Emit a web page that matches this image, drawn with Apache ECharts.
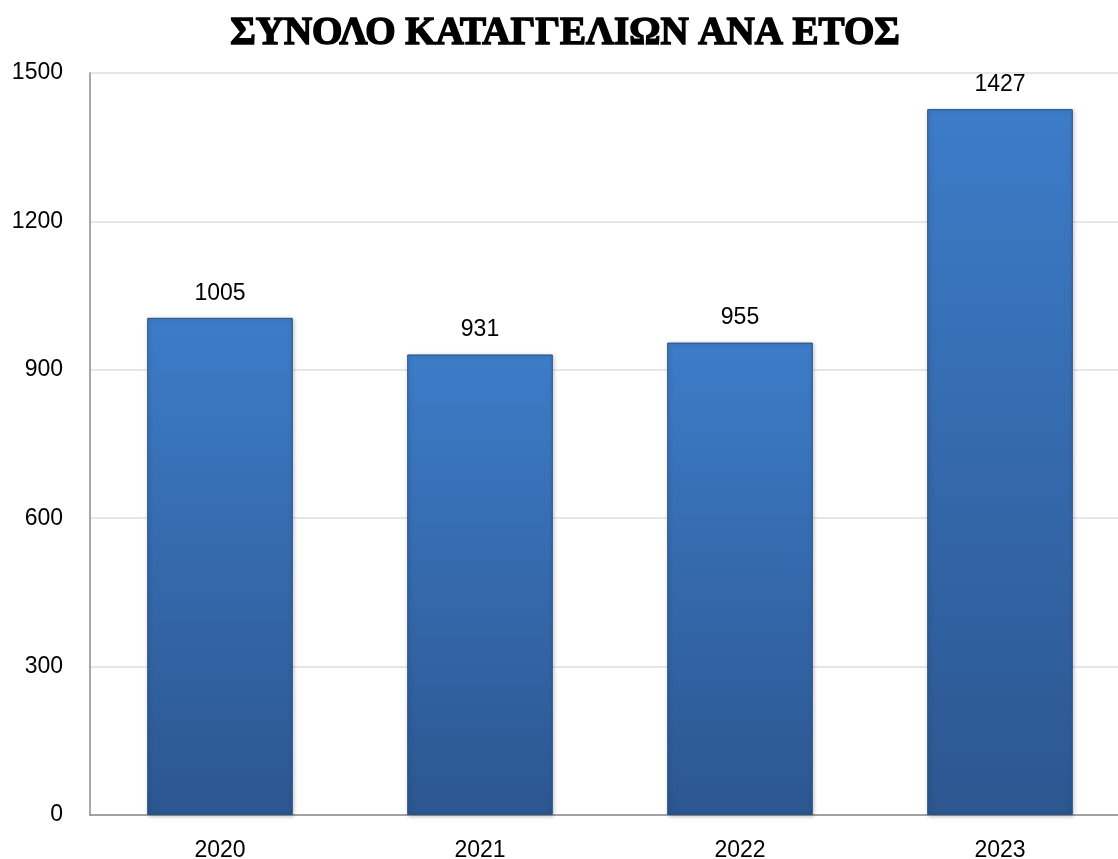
<!DOCTYPE html>
<html>
<head>
<meta charset="utf-8">
<script src="https://cdn.jsdelivr.net/npm/echarts@6/dist/echarts.min.js"></script>
<style>
  html, body { margin: 0; padding: 0; background: #fff; overflow: hidden; }
  /* the plot runs a bit past the right edge of the picture, as in the original */
  #main { width: 1130px; height: 859px; }
</style>
</head>
<body>
<div id="main"></div>
<script>
  // data
  const years = ['2020', '2021', '2022', '2023'];
  const complaints = [1005, 931, 955, 1427];
  const yTicks = [0, 300, 600, 900, 1200, 1500];

  const chart = echarts.init(document.getElementById('main'));
  chart.setOption({
    backgroundColor: '#ffffff',
    animation: false,
    title: {
      text: 'ΣΥΝΟΛΟ ΚΑΤΑΓΓΕΛΙΩΝ ΑΝΑ ΕΤΟΣ',
      left: 'center',
      top: 9,
      textStyle: {
        fontFamily: "'Liberation Serif', serif",
        fontWeight: 'bold',
        fontSize: 39,
        color: '#000',
        textBorderColor: '#000',
        textBorderWidth: 1.5
      }
    },
    grid: { left: 90, right: 0, top: 73, bottom: 44, outerBoundsMode: 'none' },
    xAxis: {
      type: 'category',
      data: years,
      axisLine: { lineStyle: { color: '#8c8c8c', width: 1.5 } },
      axisTick: { show: false },
      axisLabel: { fontFamily: "'Liberation Sans', sans-serif", fontSize: 23, color: '#000', margin: 24 }
    },
    yAxis: {
      type: 'value',
      min: yTicks[0],
      max: yTicks[yTicks.length - 1],
      interval: yTicks[1] - yTicks[0],
      axisLine: { show: true, lineStyle: { color: '#8c8c8c', width: 1.5 } },
      axisTick: { show: false },
      splitLine: { lineStyle: { color: '#dedede', width: 1.5 } },
      axisLabel: {
        fontFamily: "'Liberation Sans', sans-serif",
        fontSize: 23,
        color: '#000',
        margin: 27,
        formatter: function (v) { return String(v); }
      }
    },
    series: [{
      type: 'bar',
      data: complaints,
      barWidth: '56%',
      itemStyle: {
        color: new echarts.graphic.LinearGradient(0, 0, 0, 1, [
          { offset: 0, color: '#3d7cc8' },
          { offset: 1, color: '#2c5690' }
        ]),
        borderColor: '#2a5287',
        borderWidth: 1,
        shadowColor: 'rgba(0,0,0,0.25)',
        shadowBlur: 4,
        shadowOffsetX: 1,
        shadowOffsetY: 1
      },
      label: {
        show: true,
        position: 'top',
        distance: 13,
        fontFamily: "'Liberation Sans', sans-serif",
        fontSize: 23,
        color: '#000'
      }
    }]
  });
</script>
</body>
</html>
